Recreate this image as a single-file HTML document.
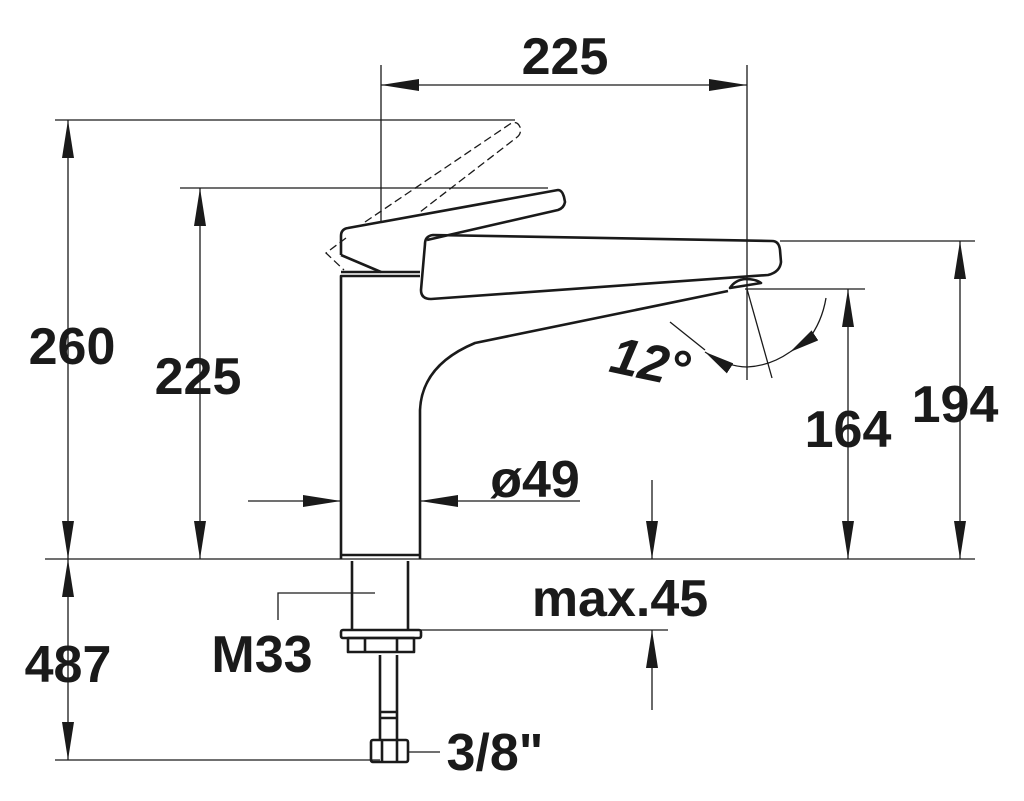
<!DOCTYPE html>
<html><head><style>html,body{margin:0;padding:0;background:#fff}svg{display:block}
text{font-family:"Liberation Sans",sans-serif;font-weight:bold;fill:#1a1a1a}</style></head>
<body>
<svg width="1024" height="801" viewBox="0 0 1024 801" xmlns="http://www.w3.org/2000/svg">
<defs>
<marker id="a" viewBox="0 0 38 12" refX="38" refY="6" markerWidth="38" markerHeight="12" markerUnits="userSpaceOnUse" orient="auto-start-reverse"><path d="M0,0 L38,6 L0,12z" fill="#1a1a1a"/></marker>
<marker id="b" viewBox="0 0 30 12" refX="30" refY="6" markerWidth="30" markerHeight="12" markerUnits="userSpaceOnUse" orient="auto-start-reverse"><path d="M0,0 L30,6 L0,12z" fill="#1a1a1a"/></marker>
</defs>
<g stroke="#1a1a1a" stroke-width="1.3" fill="none">
<line x1="45" y1="559" x2="975" y2="559"/>
<line x1="381" y1="65" x2="381" y2="222"/>
<line x1="747" y1="65" x2="747" y2="380"/>
<line x1="55" y1="120" x2="515" y2="120"/>
<line x1="180" y1="188" x2="548" y2="188"/>
<line x1="780" y1="241" x2="975" y2="241"/>
<line x1="745" y1="289" x2="865" y2="289"/>
<line x1="420" y1="630" x2="668" y2="630"/>
<line x1="55" y1="760" x2="380" y2="760"/>
<line x1="381" y1="85" x2="747" y2="85" marker-start="url(#a)" marker-end="url(#a)"/>
<line x1="68" y1="120" x2="68" y2="559" marker-start="url(#a)" marker-end="url(#a)"/>
<line x1="200" y1="188" x2="200" y2="559" marker-start="url(#a)" marker-end="url(#a)"/>
<line x1="960" y1="241" x2="960" y2="559" marker-start="url(#a)" marker-end="url(#a)"/>
<line x1="848" y1="289" x2="848" y2="559" marker-start="url(#a)" marker-end="url(#a)"/>
<line x1="68" y1="559" x2="68" y2="760" marker-start="url(#a)" marker-end="url(#a)"/>
<line x1="248" y1="501" x2="341" y2="501" marker-end="url(#a)"/>
<line x1="580" y1="501" x2="420" y2="501" marker-end="url(#a)"/>
<line x1="652" y1="480" x2="652" y2="559" marker-end="url(#a)"/>
<line x1="652" y1="710" x2="652" y2="630" marker-end="url(#a)"/>
<polyline points="375,593 278,593 278,620"/>
<line x1="408" y1="752" x2="440" y2="752"/>
<line x1="670" y1="322" x2="705" y2="350"/>
<line x1="747" y1="289" x2="772" y2="378"/>
<path d="M705,352 Q728,367 747,367 Q770,366 790,352" marker-start="url(#b)"/>
<path d="M808,340 Q822,322 826,298" />
<line x1="790" y1="352" x2="808" y2="340" marker-start="url(#b)"/>
</g>
<g stroke="#1a1a1a" stroke-width="2.6" fill="none" stroke-linejoin="round">
<path d="M341,559 L341,276 L420,276 M420,559 L420,410 Q422,365 475,343 L728,291"/>
<line x1="341" y1="272" x2="420" y2="272"/>
<path d="M341,555 L420,555"/>
<path d="M425,244 Q425,236 433,235 L772,241 Q779,241 780,250 L781,262 Q780,272 768,275 L431,299 Q421,299 421,290 Z"/>
<path d="M730,288 Q735,280 745,279 Q756,279 761,283 Z"/>
<path d="M341,255 L341,236 Q341,229 348,228 L558,190 Q562,190 564,197 L565,202 Q564,208 558,210 L427,240 M341,255 L381,272"/>
<path d="M352,561 L352,630 M408,561 L408,630"/>
<rect x="341" y="630" width="80" height="8" rx="2"/>
<rect x="348" y="638" width="66" height="14"/>
<line x1="365" y1="638" x2="365" y2="652"/><line x1="397" y1="638" x2="397" y2="652"/>
<path d="M380,655 L380,740 M397,655 L397,740 M380,712 L397,712 M380,718 L397,718"/>
<rect x="371" y="740" width="37" height="22" rx="2"/>
<line x1="382" y1="740" x2="382" y2="762"/><line x1="397" y1="740" x2="397" y2="762"/>
</g>
<g stroke="#1a1a1a" stroke-width="1.3" fill="none" stroke-dasharray="8,4">
<path d="M365,222 L510,124 Q517,120 520,127 Q522,134 516,138 L420,212"/>
<path d="M346,238 L326,253 L344,270"/>
</g>
<g font-size="52">
<text x="565" y="74" text-anchor="middle">225</text>
<text x="72" y="364" text-anchor="middle">260</text>
<text x="198" y="394" text-anchor="middle">225</text>
<text x="955" y="422" text-anchor="middle">194</text>
<text x="848" y="447" text-anchor="middle">164</text>
<text x="535" y="497" text-anchor="middle">ø49</text>
<text x="620" y="616" text-anchor="middle">max.45</text>
<text x="262" y="672" text-anchor="middle">M33</text>
<text x="68" y="682" text-anchor="middle">487</text>
<text x="495" y="770" text-anchor="middle">3/8"</text>
<text x="650" y="380" text-anchor="middle" font-style="italic" transform="rotate(12 650 362)">12°</text>
</g>
</svg>
</body></html>
